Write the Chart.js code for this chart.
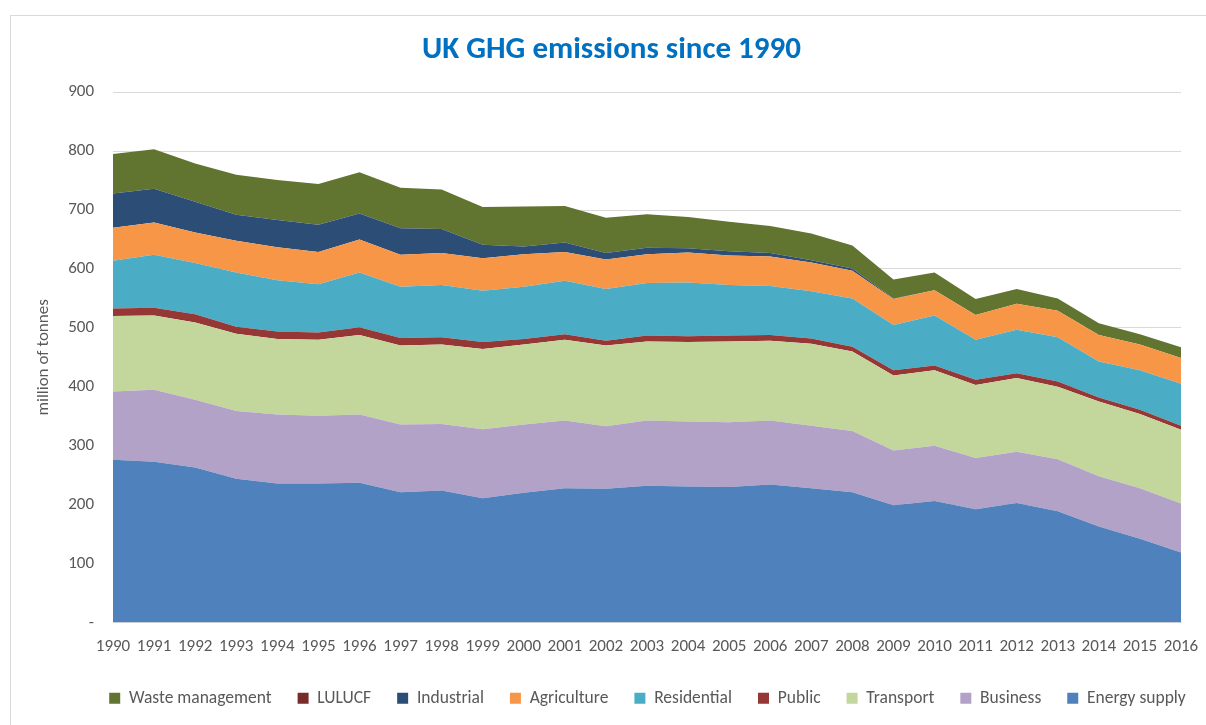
<!DOCTYPE html>
<html>
<head>
<meta charset="utf-8">
<title>UK GHG emissions since 1990</title>
<script src="https://cdn.jsdelivr.net/npm/chart.js@4"></script>
<style>
  html, body { margin: 0; padding: 0; background: #fff; overflow: hidden; }
  #wrap { position: relative; width: 1206px; height: 725px; }
  #frame { position: absolute; left: 10px; top: 15px; width: 1300px; height: 800px;
           border-left: 1px solid #d9d9d9; border-top: 1px solid #d9d9d9; pointer-events: none; }
</style>
</head>
<body>
<div id="wrap">
  <canvas id="ghgChart" width="1206" height="725"></canvas>
  <div id="frame"></div>
</div>
<script>
const years = ['1990','1991','1992','1993','1994','1995','1996','1997','1998','1999','2000','2001','2002',
               '2003','2004','2005','2006','2007','2008','2009','2010','2011','2012','2013','2014','2015','2016'];

// million tonnes CO2e
const energySupply = [276,273,263,244,236,236,237,221,224,211,220,228,227,232,231,230,234,228,221,199,206,192,203,189,163,142,119];
const business     = [116,122,115,115,117,115,116,115,113,117,116,115,106,111,110,110,109,106,104,93,94,87,87,88,85,86,83];
const transport    = [128,126,131,131,128,129,135,134,135,136,136,137,137,134,135,137,135,139,135,127,128,124,125,123,127,126,125];
const publicSector = [13,13,14,12,13,12,13,13,12,12,9,9,8,10,10,10,10,9,8,9,8,9,8,9,7,7,7];
const residential  = [81,90,87,92,87,82,93,87,89,87,89,91,88,89,91,86,83,80,82,77,85,68,74,75,61,67,71];
const agriculture  = [56,55,52,54,56,55,56,54,54,55,55,49,50,49,51,50,50,49,47,44,43,42,44,45,45,44,44];
const industrial   = [58,57,52,44,46,46,44,45,41,23,13,16,11,11,7,7,6,4,4,1,0,0,0,0,0,0,0];
const lulucf       = [0,0,0,0,0,0,0,0,0,0,0,0,0,0,0,0,0,0,0,0,0,0,0,0,0,0,0];
const waste        = [67,67,65,68,68,69,70,69,67,64,68,62,60,57,53,50,46,45,39,32,30,27,25,21,20,17,18];

const yTicks = [0,100,200,300,400,500,600,700,800,900];

const fontFamily = "Carlito, Lato, 'Open Sans', sans-serif";
const grey = '#595959';

function area(label, data, color, first) {
    return {
        label: label,
        data: data,
        backgroundColor: color,
        borderColor: color,
        borderWidth: 0,
        pointRadius: 0,
        tension: 0,
        fill: first ? 'origin' : '-1'
    };
}

// the original legend sits a bit right of the centre (the frame is wider than the crop)
const legendShift = {
    id: 'legendShift',
    afterLayout(chart) {
        chart.legend.left += 36;
        chart.legend.right += 36;
    }
};

new Chart(document.getElementById('ghgChart').getContext('2d'), {
    type: 'line',
    data: {
        labels: years,
        datasets: [
            area('Energy supply', energySupply, '#4F81BD', true),
            area('Business', business, '#B3A2C7'),
            area('Transport', transport, '#C3D69B'),
            area('Public', publicSector, '#953735'),
            area('Residential', residential, '#4BACC6'),
            area('Agriculture', agriculture, '#F79646'),
            area('Industrial', industrial, '#2C4D75'),
            area('LULUCF', lulucf, '#772C2A'),
            area('Waste management', waste, '#617430')
        ]
    },
    plugins: [legendShift],
    options: {
        responsive: false,
        animation: false,
        layout: { padding: { left: 30, right: 13, top: 16, bottom: 8 } },
        plugins: {
            title: {
                display: true,
                text: 'UK GHG emissions since 1990',
                color: '#0070C0',
                font: { family: fontFamily, size: 31, weight: 'bold' },
                padding: { top: 16, bottom: 23 }
            },
            legend: {
                position: 'bottom',
                reverse: true,
                labels: {
                    color: grey,
                    boxWidth: 11,
                    boxHeight: 11,
                    padding: 26,
                    font: { family: fontFamily, size: 17.5 }
                }
            },
            tooltip: { enabled: false }
        },
        scales: {
            x: {
                stacked: true,
                offset: false,
                grid: { display: false, drawTicks: false },
                border: { display: true, color: '#d9d9d9' },
                ticks: {
                    color: grey,
                    autoSkip: false,
                    maxRotation: 0,
                    padding: 14,
                    font: { family: fontFamily, size: 17 }
                },
                afterFit: function(scale) {
                    scale.height = 41;
                    scale.paddingRight = 25;
                }
            },
            y: {
                stacked: true,
                min: 0,
                max: 900,
                afterBuildTicks: function(scale) { scale.ticks = yTicks.map(v => ({ value: v })); },
                grid: { color: '#d9d9d9', drawTicks: false },
                border: { display: false },
                ticks: {
                    color: grey,
                    padding: 19,
                    font: { family: fontFamily, size: 17 },
                    callback: function(v) { return v === 0 ? '-' : v; }
                },
                title: {
                    display: true,
                    text: 'million of tonnes',
                    color: grey,
                    font: { family: fontFamily, size: 17 }
                },
                afterFit: function(scale) { scale.width = 83; }
            }
        }
    }
});
</script>
</body>
</html>
